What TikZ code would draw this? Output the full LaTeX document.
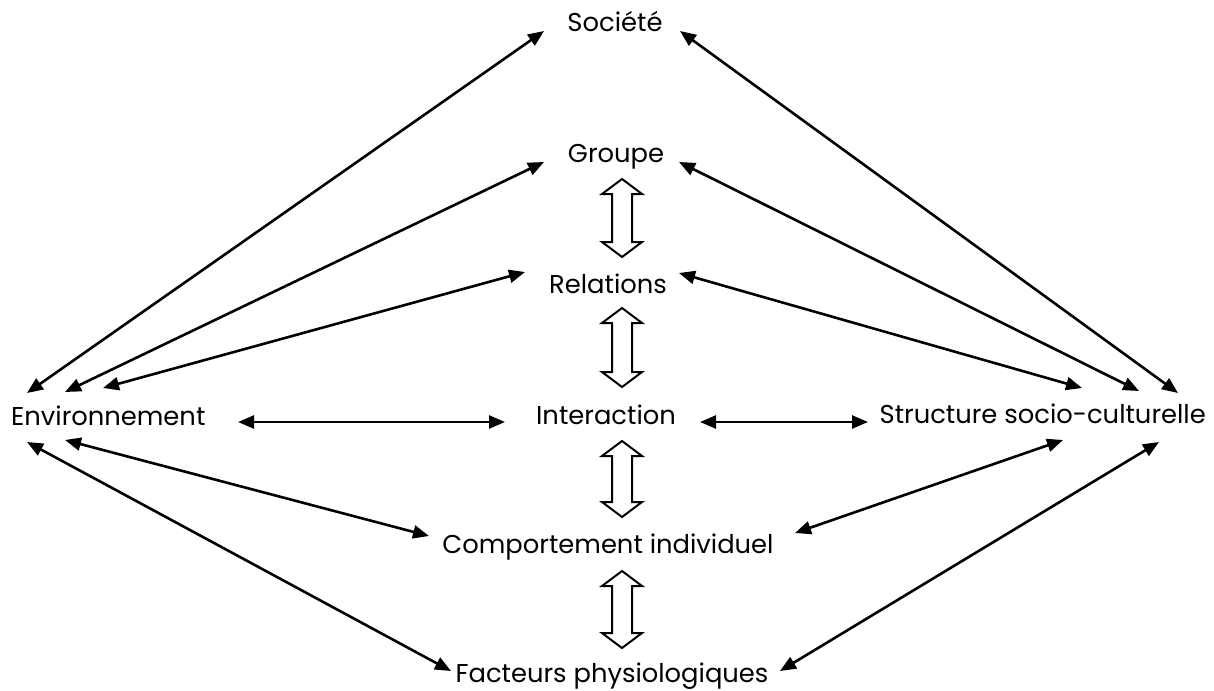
\documentclass[tikz,border=0pt]{standalone}
\usepackage{fontspec}
\setmainfont{Poppins}
\usetikzlibrary{arrows.meta}

\tikzset{
  lbl/.style={inner sep=0pt, font=\fontsize{25.8}{30}\selectfont},
  link/.style={line width=2.6pt, {Triangle[length=16pt,width=13pt]}-{Triangle[length=16pt,width=13pt]}},
  hollowline/.style={line width=2pt, fill=white, line join=miter},
  pics/updown/.style={code={
    \draw[hollowline] (0,-#1) -- (20,-#1+15) -- (10,-#1+15) -- (10,#1-15) -- (20,#1-15)
      -- (0,#1) -- (-20,#1-15) -- (-10,#1-15) -- (-10,-#1+15) -- (-20,-#1+15) -- cycle;
  }}
}

\begin{document}
\begin{tikzpicture}[x=1pt,y=-1pt]
\useasboundingbox (0,0) rectangle (1214,690);

\node[lbl, anchor=base] (soc) at (615,32) {Société};
\node[lbl, anchor=base] (grp) at (616,162) {Groupe};
\node[lbl, anchor=base] (rel) at (608,293) {Relations};
\node[lbl, anchor=base] (inter) at (606,424) {Interaction};
\node[lbl, anchor=base] (comp) at (608,553) {Comportement individuel};
\node[lbl, anchor=base] (phys) at (612,682) {Facteurs physiologiques};
\node[lbl, anchor=base west] (env) at (11,425) {Environnement};
\node[lbl, anchor=base east] (struc) at (1206,423) {Structure socio-culturelle};

\pic at (622,218) {updown=39};
\pic at (622,347.5) {updown=39.5};
\pic at (622,479) {updown=38};
\pic at (622,609.5) {updown=38.5};

\draw[link] ([shift={(16,-32)}]env.base west) -- ([shift={(-71,-1)}]soc.base);
\draw[link] ([shift={(54,-33)}]env.base west) -- ([shift={(-72,0)}]grp.base);
\draw[link] ([shift={(92,-37)}]env.base west) -- ([shift={(-83,-21)}]rel.base);
\draw[link] ([shift={(227,-3)}]env.base west) -- ([shift={(-101,-2)}]inter.base);
\draw[link] ([shift={(54,15)}]env.base west) -- ([shift={(-179,-17)}]comp.base);
\draw[link] ([shift={(16,17)}]env.base west) -- ([shift={(-161,-11)}]phys.base);

\draw[link] ([shift={(-28,-30)}]struc.base east) -- ([shift={(65,-1)}]soc.base);
\draw[link] ([shift={(-67,-32)}]struc.base east) -- ([shift={(63,0)}]grp.base);
\draw[link] ([shift={(-124,-35)}]struc.base east) -- ([shift={(71,-20)}]rel.base);
\draw[link] ([shift={(-338,-1)}]struc.base east) -- ([shift={(94,-2)}]inter.base);
\draw[link] ([shift={(-143,17)}]struc.base east) -- ([shift={(187,-20)}]comp.base);
\draw[link] ([shift={(-47,19)}]struc.base east) -- ([shift={(168,-11)}]phys.base);
\end{tikzpicture}
\end{document}
